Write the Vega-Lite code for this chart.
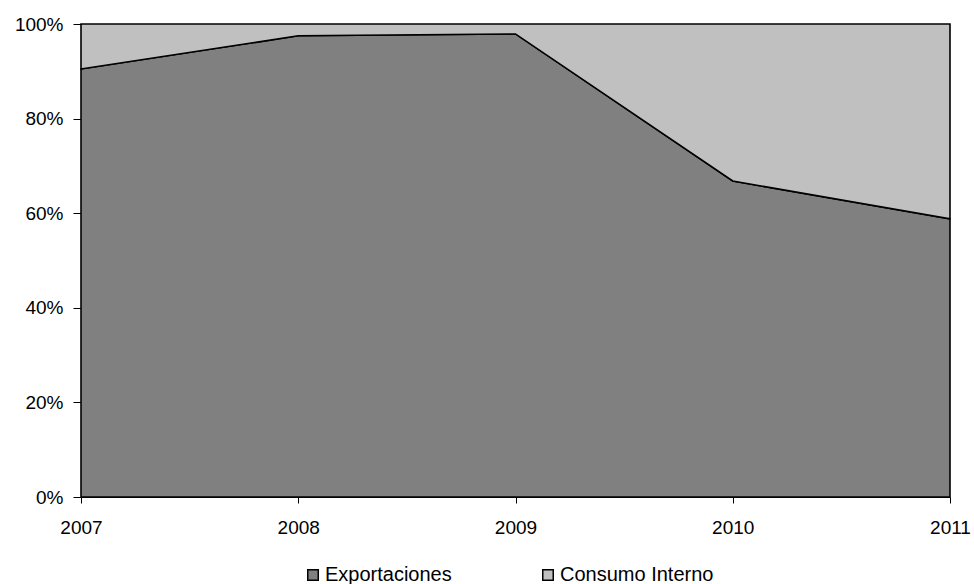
{
  "$schema": "https://vega.github.io/schema/vega-lite/v6.json",
  "width": 869,
  "height": 473,
  "autosize": {"type": "none"},
  "padding": {"left": 81, "top": 24, "right": 24, "bottom": 87},
  "background": "white",
  "config": {
    "view": {"stroke": null},
    "font": "Liberation Sans",
    "axis": {
      "grid": false,
      "domainColor": "black",
      "domainWidth": 1,
      "tickColor": "black",
      "tickSize": 7,
      "labelFont": "Liberation Sans",
      "labelFontSize": 19,
      "labelColor": "black",
      "title": null
    }
  },
  "data": {
    "values": [
      {"anio": 2007, "serie": "Exportaciones", "valor": 0.905, "orden": 1},
      {"anio": 2008, "serie": "Exportaciones", "valor": 0.975, "orden": 1},
      {"anio": 2009, "serie": "Exportaciones", "valor": 0.979, "orden": 1},
      {"anio": 2010, "serie": "Exportaciones", "valor": 0.668, "orden": 1},
      {"anio": 2011, "serie": "Exportaciones", "valor": 0.588, "orden": 1},
      {"anio": 2007, "serie": "Consumo Interno", "valor": 0.095, "orden": 2},
      {"anio": 2008, "serie": "Consumo Interno", "valor": 0.025, "orden": 2},
      {"anio": 2009, "serie": "Consumo Interno", "valor": 0.021, "orden": 2},
      {"anio": 2010, "serie": "Consumo Interno", "valor": 0.332, "orden": 2},
      {"anio": 2011, "serie": "Consumo Interno", "valor": 0.412, "orden": 2}
    ]
  },
  "mark": {"type": "area", "stroke": "black", "strokeWidth": 1.6, "strokeJoin": "miter", "opacity": 1},
  "encoding": {
    "x": {
      "field": "anio",
      "type": "quantitative",
      "scale": {"domain": [2007, 2011], "nice": false, "zero": false},
      "axis": {"values": [2007, 2008, 2009, 2010, 2011], "format": "d", "labelPadding": 15, "labelFlush": false, "tickSize": 6}
    },
    "y": {
      "field": "valor",
      "type": "quantitative",
      "stack": "zero",
      "scale": {"domain": [0, 1], "nice": false},
      "axis": {"values": [0, 0.2, 0.4, 0.6, 0.8, 1], "format": ".0%", "labelPadding": 10, "tickSize": 8}
    },
    "color": {
      "field": "serie",
      "type": "nominal",
      "scale": {"domain": ["Exportaciones", "Consumo Interno"], "range": ["#808080", "#c0c0c0"]},
      "legend": {
        "title": null,
        "orient": "none",
        "direction": "horizontal",
        "legendX": 222,
        "legendY": 541,
        "symbolType": "square",
        "symbolSize": 110,
        "symbolStrokeColor": "black",
        "symbolStrokeWidth": 1.5,
        "symbolOpacity": 1,
        "labelFontSize": 20,
        "labelFont": "Liberation Sans",
        "labelColor": "black",
        "labelOffset": 2,
        "columnPadding": 86,
        "labelLimit": 300
      }
    },
    "order": {"field": "orden", "type": "quantitative"}
  }
}
